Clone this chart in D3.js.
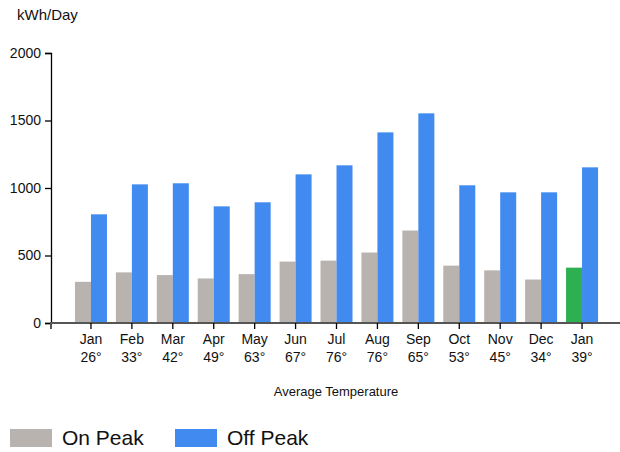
<!DOCTYPE html>
<html><head><meta charset="utf-8">
<script src="https://cdn.jsdelivr.net/npm/d3@7"></script>
<style>body{margin:0;background:#fff;} text{font-family:"Liberation Sans",Arial,sans-serif;fill:#111;}</style>
</head><body><svg id="c" width="620" height="452"></svg>
<script>
const months = ["Jan","Feb","Mar","Apr","May","Jun","Jul","Aug","Sep","Oct","Nov","Dec","Jan"];
const temps = ["26°","33°","42°","49°","63°","67°","76°","76°","65°","53°","45°","34°","39°"];
const onPeak = [305,375,355,330,362,455,462,522,685,425,390,322,410];
const offPeak = [805,1027,1035,864,894,1101,1168,1412,1553,1020,968,968,1153];
const yTicks = [0,500,1000,1500,2000];
const seriesNames = ["On Peak","Off Peak"];
const colors = {on:"#b9b3b0", off:"#418af0", current:"#2db04f"};

const svg = d3.select("#c");
const idx = d3.range(months.length);
const x = d3.scaleBand().domain(idx).range([70.5,602.5]).padding(0);
const y = d3.scaleLinear().domain([0,2000]).range([323,53]);
const bw = 16;

// bars
svg.append("g").selectAll("rect").data(idx).join("rect")
  .attr("x", i => x(i)+x.bandwidth()/2-bw).attr("width", bw)
  .attr("y", i => y(onPeak[i])).attr("height", i => y(0)-y(onPeak[i]))
  .attr("fill", i => i===months.length-1 ? colors.current : colors.on);
svg.append("g").selectAll("rect").data(idx).join("rect")
  .attr("x", i => x(i)+x.bandwidth()/2).attr("width", bw)
  .attr("y", i => y(offPeak[i])).attr("height", i => y(0)-y(offPeak[i]))
  .attr("fill", colors.off);

// y axis
const ya = svg.append("g").attr("transform","translate(51,0)")
  .call(d3.axisLeft(y).tickValues(yTicks).tickFormat(d3.format("d")).tickSize(6).tickPadding(4));
ya.selectAll("text").style("font-size","14px");
ya.selectAll("path,line").attr("stroke","#000").attr("stroke-width",1.3);

// x axis
const xa = svg.append("g").attr("transform","translate(0,323)")
  .call(d3.axisBottom(x).tickSize(6).tickFormat(""));
xa.select(".domain").attr("d","M51,6V0H622").attr("stroke","#555").attr("stroke-width",2);
xa.selectAll("line").attr("stroke","#000").attr("stroke-width",1.3);
const lab = svg.append("g");
lab.selectAll("text.m").data(idx).join("text").attr("class","m")
  .attr("x", i => x(i)+x.bandwidth()/2).attr("y",344)
  .attr("text-anchor","middle").style("font-size","14px").text(i => months[i]);
lab.selectAll("text.t").data(idx).join("text").attr("class","t")
  .attr("x", i => x(i)+x.bandwidth()/2).attr("y",362)
  .attr("text-anchor","middle").style("font-size","14px").text(i => temps[i]);

svg.append("text").attr("x",336).attr("y",396).attr("text-anchor","middle")
  .style("font-size","13px").text("Average Temperature");
svg.append("text").attr("x",17).attr("y",20).style("font-size","15px").text("kWh/Day");

// legend
const lg = svg.append("g");
const lx = [10,175];
seriesNames.forEach((n,k)=>{
  lg.append("rect").attr("x",lx[k]).attr("y",429).attr("width",42).attr("height",18)
    .attr("fill", k===0?colors.on:colors.off);
  lg.append("text").attr("x",lx[k]+52).attr("y",445).style("font-size","21px").text(n);
});
</script></body></html>
